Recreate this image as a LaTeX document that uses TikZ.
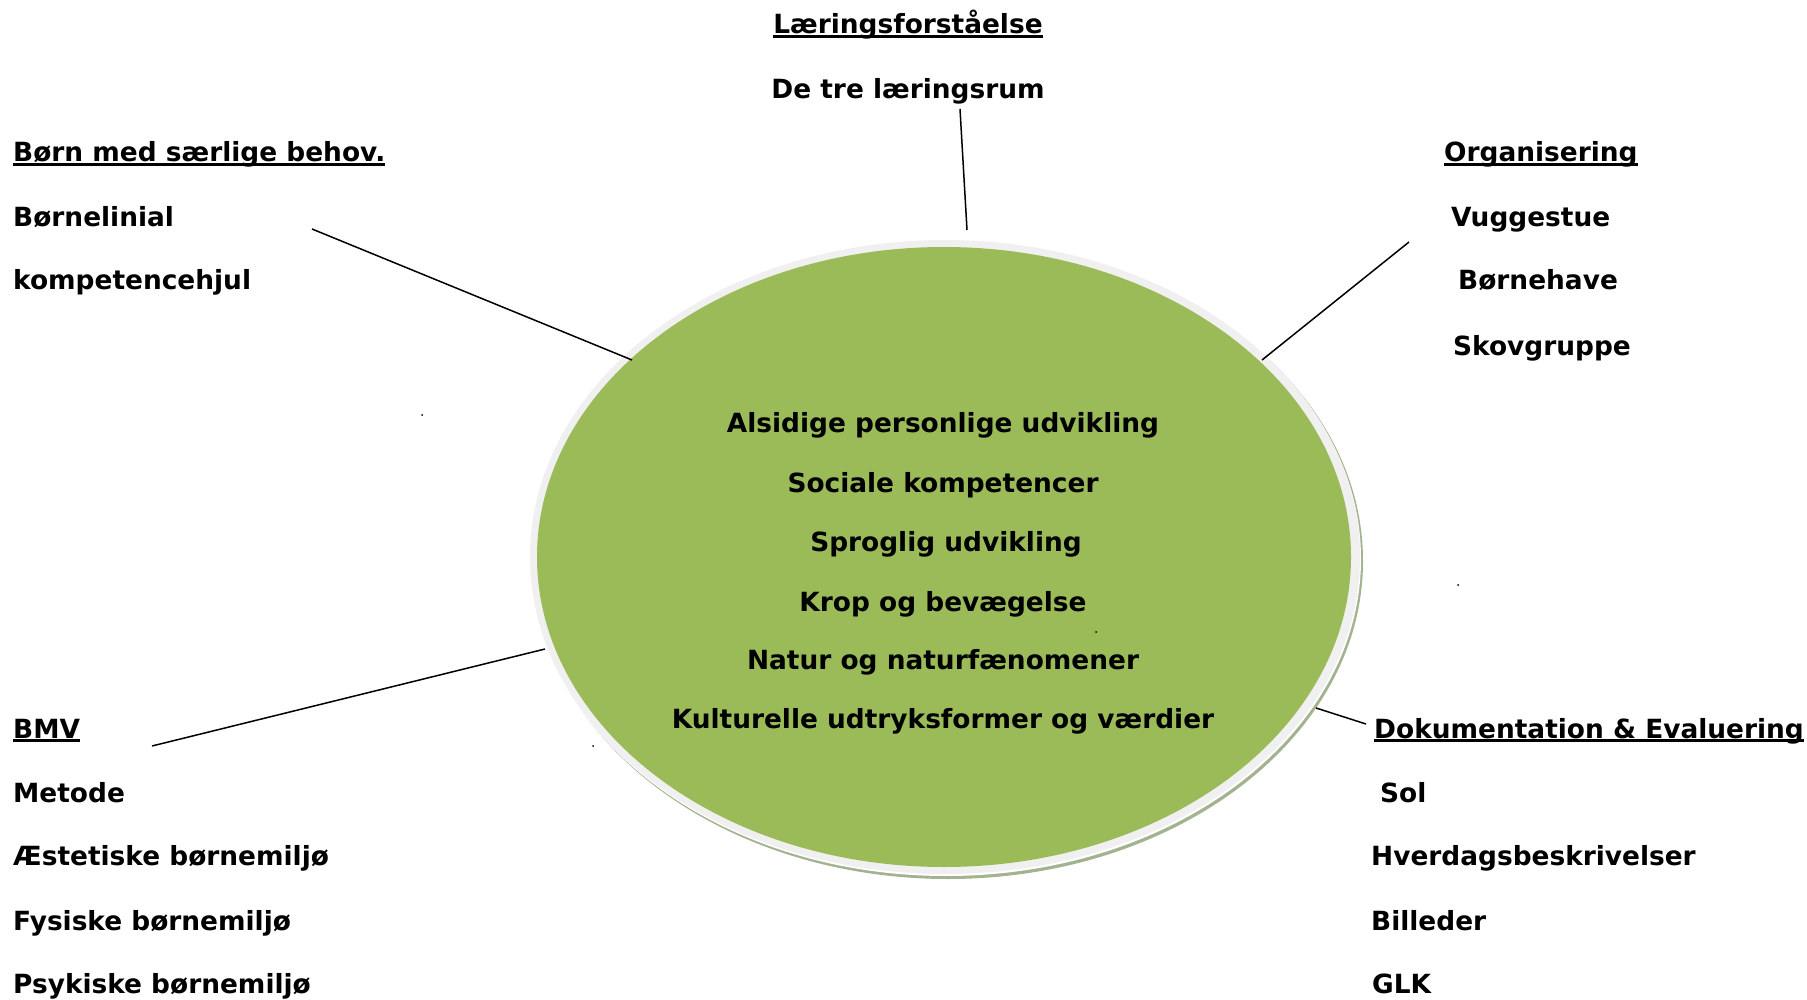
\documentclass[tikz,border=0pt]{standalone}
\usepackage{fontspec}
\setmainfont{DejaVu Sans}
\definecolor{olive}{HTML}{9BBB59}
\definecolor{ringgray}{HTML}{F0F0F0}
\definecolor{ringshadow}{HTML}{A3B28F}
\newcommand\myul[1]{\setbox0\hbox{#1}\rlap{\rule[-4pt]{\wd0}{2.6pt}}\box0}
\begin{document}
\begin{tikzpicture}[x=1pt,y=-1pt,
  lbl/.style={font=\fontsize{26.4}{30}\selectfont\bfseries, inner sep=0pt, anchor=base west},
  ctr/.style={font=\fontsize{26.4}{30}\selectfont\bfseries, inner sep=0pt, anchor=base},
  conn/.style={line width=1.5pt, black}]
\useasboundingbox (0,0) rectangle (1807,1000);
% ellipse
\fill[ringshadow] (948,561) ellipse [x radius=415, y radius=318];
\fill[white] (946,559) ellipse [x radius=415, y radius=317];
\fill[ringgray] (945,557) ellipse [x radius=415, y radius=317];
\fill[olive] (944,557) ellipse [x radius=407, y radius=310];
% inner text
\node[ctr] (i1) at (943,432) {Alsidige personlige udvikling};
\node[ctr] (i2) at (943,492) {Sociale kompetencer};
\node[ctr] (i3) at (946,551) {Sproglig udvikling};
\node[ctr] (i4) at (943,611) {Krop og bevægelse};
\node[ctr] (i5) at (943,669) {Natur og naturfænomener};
\node[ctr] (i6) at (943,728) {Kulturelle udtryksformer og værdier};
% top
\node[ctr] (t1) at (908,34) {\myul{Læringsforståelse}};
\node[ctr] (t2) at (908,99) {De tre læringsrum};
% top left
\node[lbl] (a1) at (13,162) {\myul{Børn med særlige behov.}};
\node[lbl] (a2) at (13,227) {Børnelinial};
\node[lbl] (a3) at (13,290) {kompetencehjul};
% top right
\node[lbl] (b1) at (1444,162) {\myul{Organisering}};
\node[lbl] (b2) at (1451,227) {Vuggestue};
\node[lbl] (b3) at (1458,290) {Børnehave};
\node[lbl] (b4) at (1453,355) {Skovgruppe};
% bottom left
\node[lbl] (c1) at (13,738) {\myul{BMV}};
\node[lbl] (c2) at (13,802) {Metode};
\node[lbl] (c3) at (13,865) {Æstetiske børnemiljø};
\node[lbl] (c4) at (13,930) {Fysiske børnemiljø};
\node[lbl] (c5) at (13,993) {Psykiske børnemiljø};
% bottom right
\node[lbl] (d1) at (1374,738) {\myul{Dokumentation \& Evaluering}};
\node[lbl] (d2) at (1380,802) {Sol};
\node[lbl] (d3) at (1371,865) {Hverdagsbeskrivelser};
\node[lbl] (d4) at (1371,930) {Billeder};
\node[lbl] (d5) at (1372,993) {GLK};
% connector end points
\coordinate (pt1) at (960,109);
\coordinate (pt2) at (967,230);
\coordinate (pa1) at (312,229);
\coordinate (pa2) at (632,360);
\coordinate (pb1) at (1409,242);
\coordinate (pb2) at (1262,360);
\coordinate (pc1) at (152,746);
\coordinate (pc2) at (545,649);
\coordinate (pd1) at (1316,708);
\coordinate (pd2) at (1366,724);
\draw[conn] (pt1) -- (pt2);
\draw[conn] (pa1) -- (pa2);
\draw[conn] (pb1) -- (pb2);
\draw[conn] (pc1) -- (pc2);
\draw[conn] (pd1) -- (pd2);
% stray dots
\fill (422,415) circle (1);
\fill (1458,585) circle (1);
\fill (1096,632) circle (1);
\fill (593,746) circle (1);
\end{tikzpicture}
\end{document}
